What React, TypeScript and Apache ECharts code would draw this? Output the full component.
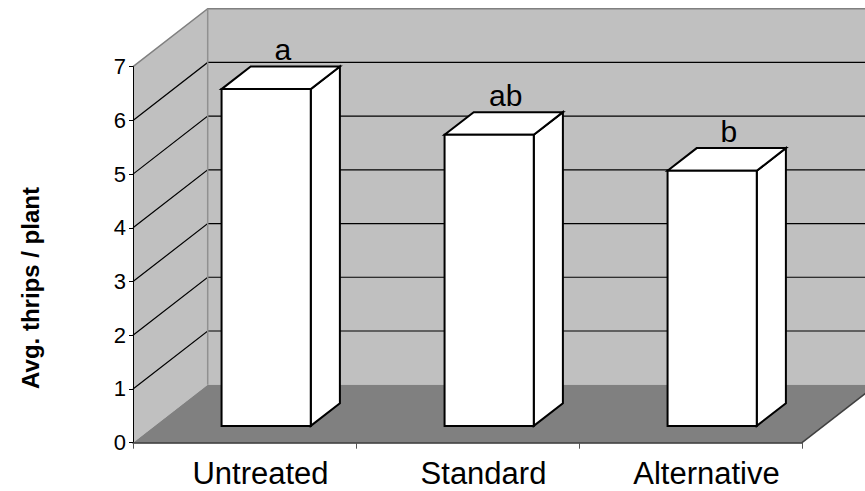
import React, { useEffect, useRef } from "react";
import * as echarts from "echarts";

// Treatment groups and mean thrips counts per plant
const categories = ["Untreated", "Standard", "Alternative"];
const avgThrips = [6.27, 5.42, 4.75];
// Significance letters printed above each column
const letters = ["a", "ab", "b"];
const yTicks = [0, 1, 2, 3, 4, 5, 6, 7];

const FONT = "'Liberation Sans', Arial, Helvetica, sans-serif";

// Perspective offset of the back wall relative to the front plane (px)
const DX = 74.7;
const DY = -58;
// Depth position of the column faces as a fraction of the full depth
const FRONT = 0.29;
const BACK = 0.68;

export default function App() {
  const ref = useRef<HTMLDivElement>(null);

  useEffect(() => {
    if (!ref.current) return;
    const chart = echarts.init(ref.current, null, { renderer: "svg" });

    const yMax = yTicks[yTicks.length - 1];

    const option: any = {
      animation: false,
      backgroundColor: "#ffffff",
      grid: { left: 133, right: 63, top: 66.7, bottom: 48.3 },
      xAxis: {
        type: "category",
        data: categories,
        boundaryGap: true,
        axisLine: { show: true, lineStyle: { color: "#333333", width: 1.5 } },
        axisTick: { show: true, length: 6, alignWithLabel: false, lineStyle: { color: "#555555" } },
        axisLabel: {
          color: "#000000",
          fontSize: 31,
          fontFamily: FONT,
          margin: 15,
          padding: [0, 0, 0, 32],
        },
        splitLine: { show: false },
        z: 5,
      },
      yAxis: {
        type: "value",
        min: 0,
        max: yMax,
        interval: 1,
        axisLine: { show: true, lineStyle: { color: "#000000", width: 1 } },
        axisTick: { show: true, length: 4, lineStyle: { color: "#000000" } },
        axisLabel: { color: "#000000", fontSize: 22, fontFamily: FONT, margin: 7 },
        splitLine: { show: false },
        z: 5,
      },
      graphic: [
        {
          type: "text",
          x: 30,
          y: 288,
          rotation: Math.PI / 2,
          style: {
            text: "Avg. thrips / plant",
            align: "center",
            verticalAlign: "middle",
            fill: "#000000",
            font: `bold 24px ${FONT}`,
          },
        },
      ],
      series: [
        {
          // walls, floor and gridlines of the 3-D box
          type: "custom",
          z: -1,
          silent: true,
          data: [[0, 0]],
          renderItem: (params: any, api: any) => {
            const cs = params.coordSys;
            const x0 = cs.x;
            const x1 = cs.x + cs.width;
            const yb = api.coord([0, 0])[1];
            const yt = api.coord([0, yMax])[1];
            const children: any[] = [];
            // side wall
            children.push({
              type: "polygon",
              shape: { points: [[x0, yb], [x0 + DX, yb + DY], [x0 + DX, yt + DY], [x0, yt]] },
              style: { fill: "#c0c0c0", stroke: null },
            });
            // back wall
            children.push({
              type: "polygon",
              shape: { points: [[x0 + DX, yb + DY], [x1 + DX, yb + DY], [x1 + DX, yt + DY], [x0 + DX, yt + DY]] },
              style: { fill: "#c0c0c0", stroke: null },
            });
            // floor
            children.push({
              type: "polygon",
              shape: { points: [[x0, yb], [x1, yb], [x1 + DX, yb + DY], [x0 + DX, yb + DY]] },
              style: { fill: "#808080", stroke: null },
            });
            children.push({
              type: "line",
              shape: { x1: x1, y1: yb, x2: x1 + DX, y2: yb + DY },
              style: { stroke: "#404040", lineWidth: 1.5 },
            });
            // gridlines
            yTicks.forEach((v) => {
              if (v === 0 || v === yMax) return;
              const y = api.coord([0, v])[1];
              children.push({
                type: "polyline",
                shape: { points: [[x0, y], [x0 + DX, y + DY], [x1 + DX, y + DY]] },
                style: { stroke: "#000000", lineWidth: 1.2, fill: null },
              });
            });
            // outer edges of the walls
            children.push({
              type: "polyline",
              shape: { points: [[x0, yt], [x0 + DX, yt + DY], [x1 + DX, yt + DY]] },
              style: { stroke: "#808080", lineWidth: 1.5, fill: null },
            });
            children.push({
              type: "line",
              shape: { x1: x0 + DX, y1: yt + DY, x2: x0 + DX, y2: yb + DY },
              style: { stroke: "#909090", lineWidth: 1.5 },
            });
            return { type: "group", children };
          },
        },
        {
          // 3-D columns
          type: "custom",
          z: 3,
          data: avgThrips.map((v, i) => [i, v]),
          encode: { x: 0, y: 1 },
          renderItem: (params: any, api: any) => {
            const i = api.value(0);
            const v = api.value(1);
            const top = api.coord([i, v]);
            const base = api.coord([i, 0]);
            const cx = top[0];
            const yTop = top[1];
            const y0 = base[1];
            const bw = api.size([1, 0])[0] * 0.4;
            const hw = bw / 2;
            const ox = DX * FRONT;
            const oy = DY * FRONT;
            const bx = DX * BACK;
            const by = DY * BACK;
            const st = { fill: "#ffffff", stroke: "#000000", lineWidth: 2, lineJoin: "miter" };
            return {
              type: "group",
              children: [
                {
                  type: "polygon",
                  shape: {
                    points: [
                      [cx + hw + ox, yTop + oy],
                      [cx + hw + bx, yTop + by],
                      [cx + hw + bx, y0 + by],
                      [cx + hw + ox, y0 + oy],
                    ],
                  },
                  style: st,
                },
                {
                  type: "polygon",
                  shape: {
                    points: [
                      [cx - hw + ox, yTop + oy],
                      [cx + hw + ox, yTop + oy],
                      [cx + hw + bx, yTop + by],
                      [cx - hw + bx, yTop + by],
                    ],
                  },
                  style: st,
                },
                {
                  type: "rect",
                  shape: { x: cx - hw + ox, y: yTop + oy, width: bw, height: y0 - yTop },
                  style: st,
                },
                {
                  type: "text",
                  style: {
                    text: letters[i],
                    x: cx + (ox + bx) / 2 + 2,
                    y: yTop + by - 2,
                    align: "center",
                    verticalAlign: "bottom",
                    fill: "#000000",
                    fontSize: 30,
                    fontFamily: FONT,
                  },
                },
              ],
            };
          },
        },
      ],
    };

    chart.setOption(option);
    return () => chart.dispose();
  }, []);

  return (
    <div
      ref={ref}
      style={{ position: "fixed", left: 0, top: 0, width: 865, height: 491, background: "#ffffff" }}
    />
  );
}
